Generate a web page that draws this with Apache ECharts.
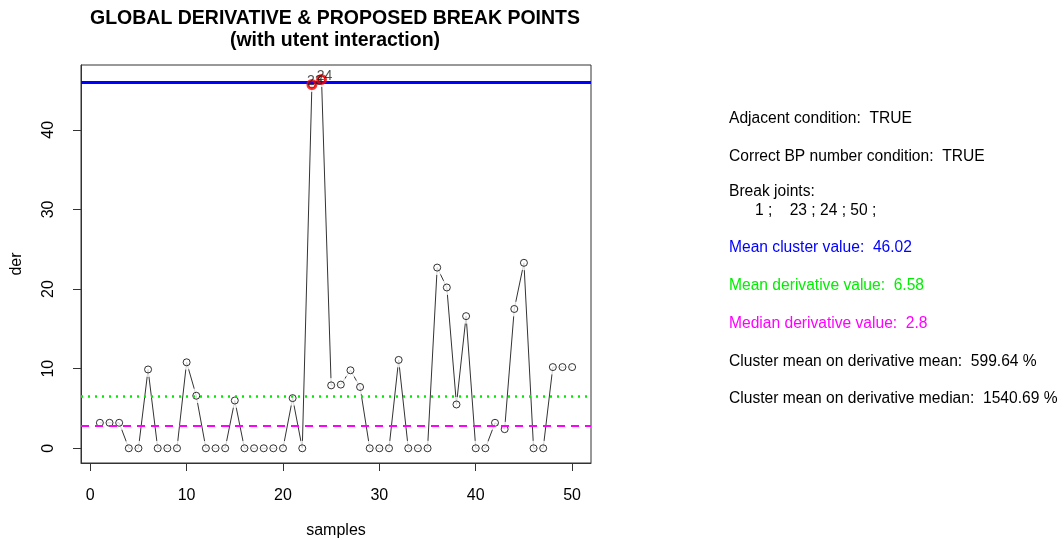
<!DOCTYPE html>
<html>
<head>
<meta charset="utf-8">
<script src="https://cdn.jsdelivr.net/npm/echarts@6/dist/echarts.min.js"></script>
<style>
html,body{margin:0;padding:0;background:#fff;}
#chart{width:1064px;height:540px;}
</style>
</head>
<body>
<div id="chart"></div>
<script>
var samples = [1,2,3,4,5,6,7,8,9,10,11,12,13,14,15,16,17,18,19,20,21,22,23,24,25,26,27,28,29,30,31,32,33,34,35,36,37,38,39,40,41,42,43,44,45,46,47,48,49,50];
var der = [3.2,3.2,3.2,0,0,9.9,0,0,0,10.8,6.6,0,0,0,6.0,0,0,0,0,0,6.3,0,45.7,46.34,7.9,8.0,9.8,7.7,0,0,0,11.1,0,0,0,22.7,20.2,5.5,16.6,0,0,3.2,2.4,17.5,23.3,0,0,10.2,10.2,10.2];
var breakPoints = [23, 24];
var xTicks = [0,10,20,30,40,50];
var yTicks = [0,10,20,30,40];
var meanCluster = 46.02;
var meanDer = 6.58;
var medianDer = 2.8;
var titleLines = ['GLOBAL DERIVATIVE & PROPOSED BREAK POINTS', '(with utent interaction)'];
var infoLines = [
  {text: 'Adjacent condition:  TRUE', color: '#000000'},
  {text: 'Correct BP number condition:  TRUE', color: '#000000'},
  {text: 'Break joints:', color: '#000000'},
  {text: '      1 ;    23 ; 24 ; 50 ;', color: '#000000'},
  {text: 'Mean cluster value:  46.02', color: '#0000FF'},
  {text: 'Mean derivative value:  6.58', color: '#00EE00'},
  {text: 'Median derivative value:  2.8', color: '#FF00FF'},
  {text: 'Cluster mean on derivative mean:  599.64 %', color: '#000000'},
  {text: 'Cluster mean on derivative median:  1540.69 %', color: '#000000'}
];
var infoY = [119, 157, 192, 211, 248, 286, 324, 362, 399];
var titleY = [19, 41];

var pts = samples.map(function(s, i){ return [s, der[i]]; });
var bpPts = breakPoints.map(function(b){ return [b, der[b-1], String(b)]; });

var chart = echarts.init(document.getElementById('chart'));
var FONT = 'Liberation Sans, Arial, sans-serif';

var graphics = infoLines.map(function(l, i){
  return {type:'text', x: 729, y: infoY[i],
    style:{text: l.text, fill: l.color, font: '15.6px ' + FONT, textAlign: 'left', textVerticalAlign: 'middle'}};
});
titleLines.forEach(function(t, i){
  graphics.push({type:'text', x: 335, y: titleY[i],
    style:{text: t, fill:'#000', font:'bold 19.5px ' + FONT, textAlign: 'center', textVerticalAlign: 'middle'}});
});

var option = {
  animation: false,
  backgroundColor: '#fff',
  graphic: graphics,
  grid: {left: 81, right: 473, top: 65, bottom: 77, show: true, borderColor: '#333', borderWidth: 1,
    backgroundColor: 'transparent', containLabel: false, outerBoundsMode: 'none'},
  xAxis: {
    type: 'value', min: -0.96, max: 51.96,
    name: 'samples', nameLocation: 'middle', nameGap: 60,
    nameTextStyle: {fontFamily: FONT, fontSize: 16, color: '#000'},
    axisLine: {show: true, onZero: false, lineStyle: {color: '#333'}},
    axisTick: {show: true, length: 8, lineStyle: {color: '#333'}, customValues: xTicks},
    axisLabel: {fontFamily: FONT, fontSize: 16, color: '#000', margin: 25, customValues: xTicks},
    splitLine: {show: false}
  },
  yAxis: {
    type: 'value', min: -1.85, max: 48.15,
    name: 'der', nameLocation: 'middle', nameGap: 56, nameRotate: 90,
    nameTextStyle: {fontFamily: FONT, fontSize: 16, color: '#000'},
    axisLine: {show: true, onZero: false, lineStyle: {color: '#333'}},
    axisTick: {show: true, length: 8, lineStyle: {color: '#333'}, customValues: yTicks},
    axisLabel: {fontFamily: FONT, fontSize: 16, color: '#000', margin: 24, rotate: 90, customValues: yTicks},
    splitLine: {show: false}
  },
  series: [
    {type: 'line', data: pts, symbol: 'none', z: 1,
      lineStyle: {color: '#333', width: 1}},
    {type: 'scatter', data: pts, symbol: 'circle', symbolSize: 15, z: 2,
      itemStyle: {color: '#fff', borderWidth: 0}, silent: true},
    {type: 'scatter', data: pts, symbol: 'circle', symbolSize: 7, z: 3,
      itemStyle: {color: 'transparent', borderColor: '#000', borderWidth: 1}},
    {type: 'line', data: [], z: 4,
      markLine: {symbol: 'none', silent: true, animation: false, label: {show: false},
        data: [
          {yAxis: meanCluster, lineStyle: {color: '#0000FF', width: 3, type: 'solid'}},
          {yAxis: meanDer, lineStyle: {color: '#00EE00', width: 2.5, type: [2, 5]}},
          {yAxis: medianDer, lineStyle: {color: '#FF00FF', width: 2, type: [8, 6]}}
        ]}},
    {type: 'scatter', data: bpPts, symbol: 'circle', symbolSize: 8, z: 5,
      itemStyle: {color: 'transparent', borderColor: '#FF0000', borderWidth: 3},
      label: {show: true, position: 'inside', offset: [3, -3], formatter: function(p){ return p.data[2]; },
        fontFamily: FONT, fontSize: 14, color: '#222'}}
  ]
};
chart.setOption(option);
</script>
</body>
</html>
